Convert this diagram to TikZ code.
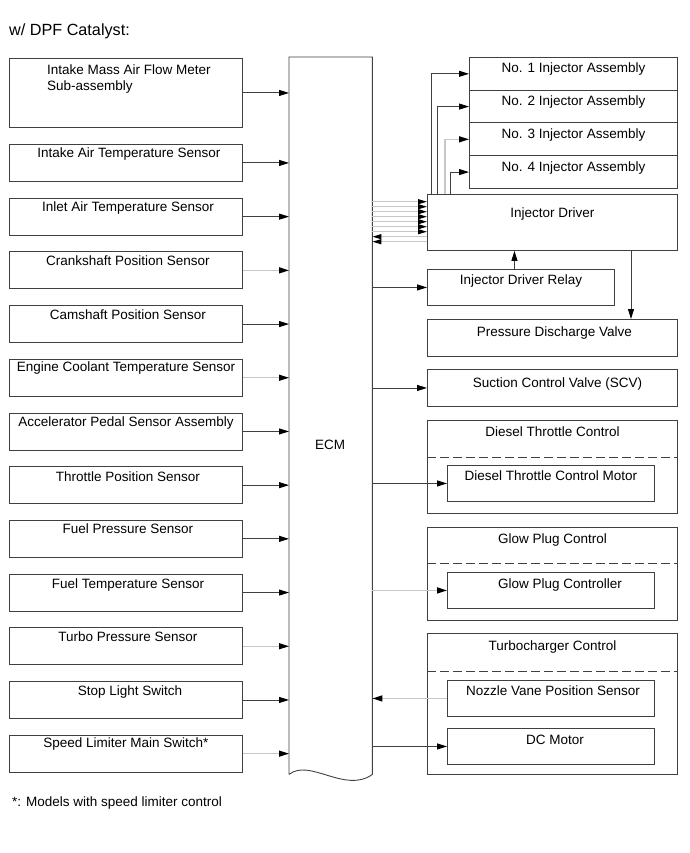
\documentclass[tikz,border=0pt]{standalone}
\usepackage{fontspec}
\setmainfont{Liberation Sans}
\usetikzlibrary{arrows.meta}
\definecolor{dk}{gray}{0.25}
\definecolor{lg}{gray}{0.78}
\tikzset{
  box/.style={draw=dk, line width=0.9pt, rectangle, inner sep=0pt, anchor=north west},
  lab/.style={anchor=base, font=\fontsize{13.5}{16}\selectfont, inner sep=0pt, text=black},
  arr/.style={draw=dk, line width=0.9pt, -{Triangle[length=10pt,width=6pt,color=black]}},
  garr/.style={arr, draw=lg, line width=1.4pt},
  barr/.style={draw=lg, line width=1.2pt, -{Triangle[length=9pt,width=5pt,color=black]}},
  dsh/.style={draw=dk, line width=0.9pt, dash pattern=on 9pt off 4pt},
  lbox/.style={box, minimum width=233pt, minimum height=37pt},
  ibox/.style={box, minimum width=208pt, minimum height=32.75pt},
  rbox/.style={box, minimum width=250pt},
  sbox/.style={box, minimum width=207pt, minimum height=36pt},
}
\begin{document}
\begin{tikzpicture}[x=1pt, y=-1pt]
\useasboundingbox (0,0) rectangle (689,853);

\node[anchor=base west, font=\fontsize{16.2}{19}\selectfont, inner sep=0pt] (title) at (9,36) {w/ DPF Catalyst:};
\node[anchor=base west, font=\fontsize{13.5}{16}\selectfont, inner sep=0pt] (note) at (12,806) {*: Models with speed limiter control};

% left boxes
\node[lbox, minimum height=69pt,
  label={[lab, anchor=base west, xshift=38pt, yshift=-17pt]north west:Intake Mass Air Flow Meter},
  label={[lab, anchor=base west, xshift=38pt, yshift=-33pt]north west:Sub-assembly}] (L1) at (9,58) {};
\node[lbox, label={[lab, yshift=-14pt, xshift=3pt]north:Intake Air Temperature Sensor}] (L2) at (9,144) {};
\node[lbox, label={[lab, yshift=-14pt, xshift=2pt]north:Inlet Air Temperature Sensor}] (L3) at (9,197.7) {};
\node[lbox, label={[lab, yshift=-14pt, xshift=2pt]north:Crankshaft Position Sensor}] (L4) at (9,251.4) {};
\node[lbox, label={[lab, yshift=-14pt, xshift=2pt]north:Camshaft Position Sensor}] (L5) at (9,305.1) {};
\node[lbox, label={[lab, yshift=-13pt, xshift=0pt]north:Engine Coolant Temperature Sensor}] (L6) at (9,358.8) {};
\node[lbox, label={[lab, yshift=-14pt, xshift=0pt]north:Accelerator Pedal Sensor Assembly}] (L7) at (9,412.5) {};
\node[lbox, label={[lab, yshift=-15pt, xshift=2pt]north:Throttle Position Sensor}] (L8) at (9,466.2) {};
\node[lbox, label={[lab, yshift=-14pt, xshift=2pt]north:Fuel Pressure Sensor}] (L9) at (9,519.9) {};
\node[lbox, label={[lab, yshift=-15pt, xshift=2pt]north:Fuel Temperature Sensor}] (L10) at (9,573.6) {};
\node[lbox, label={[lab, yshift=-14pt, xshift=2pt]north:Turbo Pressure Sensor}] (L11) at (9,627.3) {};
\node[lbox, label={[lab, yshift=-14pt, xshift=4pt]north:Stop Light Switch}] (L12) at (9,681) {};
\node[lbox, label={[lab, yshift=-13pt, xshift=0pt]north:Speed Limiter Main Switch*}] (L13) at (9,734.7) {};

% ECM
\node[inner sep=0pt, minimum width=83pt, minimum height=717pt, anchor=north west] (ECM) at (289,57) {};
\draw[draw=dk, line width=0.9pt] (ECM.south west) -- (ECM.north west) -- (ECM.north east) -- (ECM.south east)
  .. controls (345,794) and (310,758) .. (ECM.south west);
\node[lab, anchor=center] (ecmtext) at (330,445) {ECM};

% right side
\node[ibox, label={[lab, yshift=-16pt]north:No. 1 Injector Assembly}] (inj1) at (469,57) {};
\node[ibox, label={[lab, yshift=-16pt]north:No. 2 Injector Assembly}] (inj2) at (469,89.75) {};
\node[ibox, label={[lab, yshift=-16pt]north:No. 3 Injector Assembly}] (inj3) at (469,122.5) {};
\node[ibox, label={[lab, yshift=-16pt]north:No. 4 Injector Assembly}] (inj4) at (469,155.25) {};
\node[rbox, minimum height=56pt, label={[lab, yshift=-23pt]north:Injector Driver}] (drv) at (427,194) {};
\node[box, minimum width=187pt, minimum height=36pt, label={[lab, yshift=-15pt]north:Injector Driver Relay}] (rel) at (427,269) {};
\node[rbox, minimum height=37pt, label={[lab, yshift=-17pt, xshift=2pt]north:Pressure Discharge Valve}] (pdv) at (427,319) {};
\node[rbox, minimum height=37pt, label={[lab, yshift=-18pt, xshift=5pt]north:Suction Control Valve (SCV)}] (scv) at (427,369) {};

\node[rbox, minimum height=93pt, label={[lab, yshift=-16pt]north:Diesel Throttle Control}] (dtc) at (427,420) {};
\node[sbox, label={[lab, yshift=-15pt]north:Diesel Throttle Control Motor}] (dtm) at (447,465) {};
\draw[dsh] (dtc.west |- 0,457) -- (dtc.east |- 0,457);

\node[rbox, minimum height=93pt, label={[lab, yshift=-16pt]north:Glow Plug Control}] (gpc) at (427,527) {};
\node[sbox, label={[lab, yshift=-16pt, xshift=9pt]north:Glow Plug Controller}] (gpk) at (447,572) {};
\draw[dsh] (gpc.west |- 0,563) -- (gpc.east |- 0,563);

\node[rbox, minimum height=141pt, label={[lab, yshift=-17pt]north:Turbocharger Control}] (tc) at (427,633) {};
\node[sbox, label={[lab, yshift=-15pt, xshift=2pt]north:Nozzle Vane Position Sensor}] (nvp) at (447,680) {};
\node[sbox, label={[lab, yshift=-16pt, xshift=4pt]north:DC Motor}] (dcm) at (447,728) {};
\draw[dsh] (tc.west |- 0,671) -- (tc.east |- 0,671);

% left arrows
\foreach \i in {1,2,3,5,7,8,9,10,12} \draw[arr] (L\i.east) -- (L\i.east -| ECM.west);
\foreach \i in {4,6,11,13} \draw[garr] (L\i.east) -- (L\i.east -| ECM.west);

% injector driver to injectors
\draw[arr] ([xshift=4pt]drv.north west) |- (inj1.west);
\draw[arr] ([xshift=10pt]drv.north west) |- (inj2.west);
\draw[garr] ([xshift=18pt]drv.north west) |- (inj3.west);
\draw[arr] ([xshift=23pt]drv.north west) |- (inj4.west);

% ECM <-> injector driver bundle
\foreach \y in {201.7,206.7,211.7,216.7,221.7,226.7,231.7}
  \draw[barr] (ECM.east |- 0,\y) -- (drv.west |- 0,\y);
\foreach \y in {236.7,241.7}
  \draw[barr] (drv.west |- 0,\y) -- (ECM.east |- 0,\y);

% relay, pdv
\draw[arr] ([xshift=-6.5pt]rel.north) -- ([xshift=-6.5pt]rel.north |- drv.south);
\draw[arr] (drv.south -| 631,0) -- (pdv.north -| 631,0);

% ECM to right boxes
\draw[arr] (rel.west -| ECM.east) -- (rel.west);
\draw[arr] (scv.west -| ECM.east) -- (scv.west);
\draw[arr] (dtm.west -| ECM.east) -- (dtm.west);
\draw[garr] (gpk.west -| ECM.east) -- (gpk.west);
\draw[garr] (nvp.west) -- (nvp.west -| ECM.east);
\draw[arr] (dcm.west -| ECM.east) -- (dcm.west);
\end{tikzpicture}
\end{document}
